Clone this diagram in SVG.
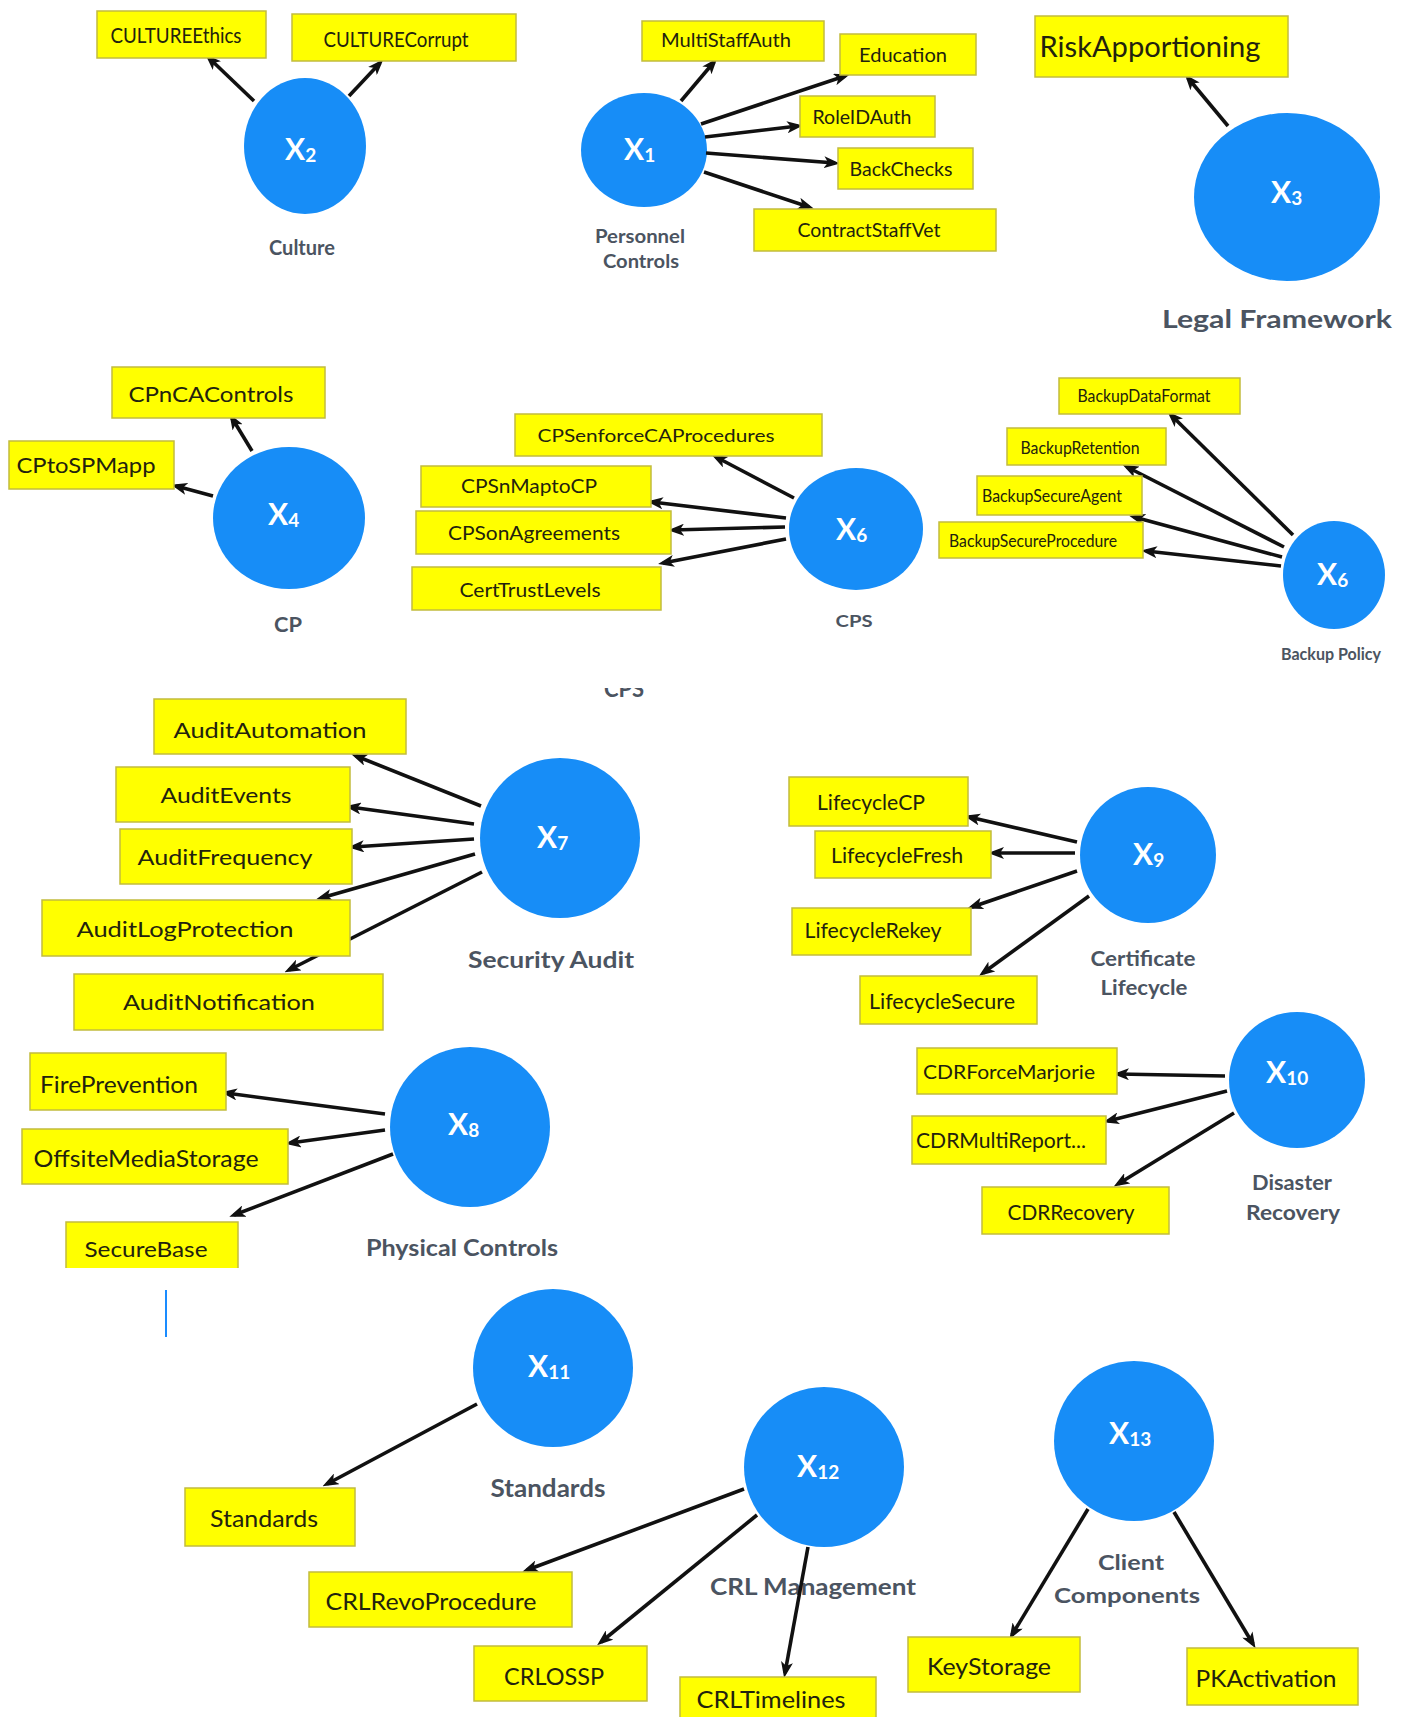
<svg xmlns="http://www.w3.org/2000/svg" width="1413" height="1717" viewBox="0 0 1413 1717">
  <style>
    .box{fill:#ffff00;stroke:#c2bc3e;stroke-width:1.5}
    .bt{font-family:Lato,"Liberation Sans",sans-serif;fill:#22220e;text-anchor:middle}
    .node{fill:#178df7}
    .xl{font-family:Lato,"Liberation Sans",sans-serif;font-weight:bold;fill:#ffffff;font-size:30px}
    .sub{font-size:19px}
    .cap{font-family:Lato,"Liberation Sans",sans-serif;font-weight:bold;fill:#4b5461;text-anchor:middle}
    .edge{stroke:#111111;stroke-width:3.6;fill:none;marker-end:url(#ah)}
  </style>
  <defs>
    <marker id="ah" viewBox="0 0 16 12" refX="11" refY="6" markerWidth="16" markerHeight="12" markerUnits="userSpaceOnUse" orient="auto">
      <path d="M0,0 L16,6 L0,12 L4,6 z" fill="#111111"/>
    </marker>
    <clipPath id="cpsClip"><rect x="590" y="688" width="70" height="20"/></clipPath>
  </defs>
  <rect width="1413" height="1717" fill="#ffffff"/>

  <!-- leftover caption fragment and edge stroke from the panel crops -->
  <text class="cap" x="624" y="697" font-size="22" clip-path="url(#cpsClip)">CPS</text>
  <line x1="166" y1="1290" x2="166" y2="1337" stroke="#1a8cff" stroke-width="2"/>

  <!-- latent constructs -->
  <g id="x2-culture">
    <ellipse class="node" cx="305" cy="146" rx="61" ry="68"/>
    <text class="xl" x="285" y="160">X<tspan class="sub" dy="2">2</tspan></text>
    <text class="cap" x="302" y="255" font-size="21" textLength="66" lengthAdjust="spacingAndGlyphs">Culture</text>
  </g>
  <g id="x1-personnel">
    <ellipse class="node" cx="644" cy="150" rx="63" ry="57"/>
    <text class="xl" x="624" y="160">X<tspan class="sub" dy="2">1</tspan></text>
    <text class="cap" x="640" y="243" font-size="19" textLength="90" lengthAdjust="spacingAndGlyphs">Personnel</text>
    <text class="cap" x="641" y="268" font-size="19" textLength="76" lengthAdjust="spacingAndGlyphs">Controls</text>
  </g>
  <g id="x3-legal">
    <ellipse class="node" cx="1287" cy="197" rx="93" ry="84"/>
    <text class="xl" x="1271" y="203">X<tspan class="sub" dy="2">3</tspan></text>
    <text class="cap" x="1277" y="328" font-size="24" textLength="230" lengthAdjust="spacingAndGlyphs">Legal Framework</text>
  </g>
  <g id="x4-cp">
    <ellipse class="node" cx="289" cy="518" rx="76" ry="71"/>
    <text class="xl" x="268" y="525">X<tspan class="sub" dy="2">4</tspan></text>
    <text class="cap" x="288" y="632" font-size="21" textLength="28" lengthAdjust="spacingAndGlyphs">CP</text>
  </g>
  <g id="x6-cps">
    <ellipse class="node" cx="856" cy="529" rx="67" ry="61"/>
    <text class="xl" x="836" y="540">X<tspan class="sub" dy="2">6</tspan></text>
    <text class="cap" x="854" y="627" font-size="17" textLength="37" lengthAdjust="spacingAndGlyphs">CPS</text>
  </g>
  <g id="x6-backup">
    <ellipse class="node" cx="1334" cy="575" rx="51" ry="54"/>
    <text class="xl" x="1317" y="585">X<tspan class="sub" dy="2">6</tspan></text>
    <text class="cap" x="1331" y="660" font-size="17" textLength="100" lengthAdjust="spacingAndGlyphs">Backup Policy</text>
  </g>
  <g id="x7-audit">
    <ellipse class="node" cx="560" cy="838" rx="80" ry="80"/>
    <text class="xl" x="537" y="848">X<tspan class="sub" dy="2">7</tspan></text>
    <text class="cap" x="551" y="968" font-size="23" textLength="166" lengthAdjust="spacingAndGlyphs">Security Audit</text>
  </g>
  <g id="x9-lifecycle">
    <ellipse class="node" cx="1148" cy="855" rx="68" ry="68"/>
    <text class="xl" x="1133" y="865">X<tspan class="sub" dy="2">9</tspan></text>
    <text class="cap" x="1143" y="966" font-size="20" textLength="105" lengthAdjust="spacingAndGlyphs">Certificate</text>
    <text class="cap" x="1144" y="995" font-size="20" textLength="87" lengthAdjust="spacingAndGlyphs">Lifecycle</text>
  </g>
  <g id="x8-physical">
    <ellipse class="node" cx="470" cy="1127" rx="80" ry="80"/>
    <text class="xl" x="448" y="1135" font-size="27">X<tspan class="sub" dy="2" font-size="17">8</tspan></text>
    <text class="cap" x="462" y="1256" font-size="23" textLength="192" lengthAdjust="spacingAndGlyphs">Physical Controls</text>
  </g>
  <g id="x10-disaster">
    <ellipse class="node" cx="1297" cy="1080" rx="68" ry="68"/>
    <text class="xl" x="1266" y="1083">X<tspan class="sub" dy="2">10</tspan></text>
    <text class="cap" x="1292" y="1190" font-size="21" textLength="80" lengthAdjust="spacingAndGlyphs">Disaster</text>
    <text class="cap" x="1293" y="1220" font-size="21" textLength="94" lengthAdjust="spacingAndGlyphs">Recovery</text>
  </g>
  <g id="x11-standards">
    <ellipse class="node" cx="553" cy="1368" rx="80" ry="79"/>
    <text class="xl" x="528" y="1377">X<tspan class="sub" dy="2">11</tspan></text>
    <text class="cap" x="548" y="1497" font-size="24" textLength="115" lengthAdjust="spacingAndGlyphs">Standards</text>
  </g>
  <g id="x12-crl">
    <ellipse class="node" cx="824" cy="1467" rx="80" ry="80"/>
    <text class="xl" x="797" y="1477">X<tspan class="sub" dy="2">12</tspan></text>
    <text class="cap" x="813" y="1595" font-size="23" textLength="206" lengthAdjust="spacingAndGlyphs">CRL Management</text>
  </g>
  <g id="x13-client">
    <ellipse class="node" cx="1134" cy="1441" rx="80" ry="80"/>
    <text class="xl" x="1109" y="1444">X<tspan class="sub" dy="2">13</tspan></text>
    <text class="cap" x="1131" y="1570" font-size="21" textLength="66" lengthAdjust="spacingAndGlyphs">Client</text>
    <text class="cap" x="1127" y="1603" font-size="21" textLength="146" lengthAdjust="spacingAndGlyphs">Components</text>
  </g>

  <!-- connectors: construct to indicator -->
  <g id="connectors">
    <line class="edge" x1="254" y1="101" x2="209" y2="58"/>
    <line class="edge" x1="349" y1="96" x2="380" y2="63"/>
    <line class="edge" x1="681" y1="101" x2="714" y2="62"/>
    <line class="edge" x1="701" y1="124" x2="845" y2="76"/>
    <line class="edge" x1="705" y1="137" x2="798" y2="126"/>
    <line class="edge" x1="706" y1="153" x2="835" y2="163"/>
    <line class="edge" x1="704" y1="172" x2="809" y2="207"/>
    <line class="edge" x1="1228" y1="126" x2="1188" y2="78"/>
    <line class="edge" x1="252" y1="451" x2="232" y2="418"/>
    <line class="edge" x1="213" y1="496" x2="176" y2="486"/>
    <line class="edge" x1="794" y1="498" x2="716" y2="457"/>
    <line class="edge" x1="786" y1="518" x2="652" y2="502"/>
    <line class="edge" x1="785" y1="527" x2="673" y2="530"/>
    <line class="edge" x1="786" y1="539" x2="663" y2="563"/>
    <line class="edge" x1="1293" y1="535" x2="1171" y2="415"/>
    <line class="edge" x1="1284" y1="547" x2="1127" y2="467"/>
    <line class="edge" x1="1282" y1="557" x2="1134" y2="517"/>
    <line class="edge" x1="1281" y1="566" x2="1146" y2="551"/>
    <line class="edge" x1="481" y1="806" x2="356" y2="756"/>
    <line class="edge" x1="474" y1="824" x2="350" y2="807"/>
    <line class="edge" x1="474" y1="839" x2="353" y2="847"/>
    <line class="edge" x1="475" y1="854" x2="321" y2="898"/>
    <line class="edge" x1="482" y1="872" x2="289" y2="970"/>
    <line class="edge" x1="1077" y1="842" x2="969" y2="817"/>
    <line class="edge" x1="1075" y1="853" x2="993" y2="853"/>
    <line class="edge" x1="1077" y1="871" x2="972" y2="907"/>
    <line class="edge" x1="1089" y1="896" x2="983" y2="973"/>
    <line class="edge" x1="385" y1="1114" x2="226" y2="1093"/>
    <line class="edge" x1="385" y1="1130" x2="290" y2="1143"/>
    <line class="edge" x1="393" y1="1154" x2="234" y2="1215"/>
    <line class="edge" x1="1225" y1="1076" x2="1118" y2="1074"/>
    <line class="edge" x1="1227" y1="1091" x2="1108" y2="1121"/>
    <line class="edge" x1="1234" y1="1113" x2="1118" y2="1184"/>
    <line class="edge" x1="477" y1="1404" x2="327" y2="1484"/>
    <line class="edge" x1="744" y1="1489" x2="527" y2="1570"/>
    <line class="edge" x1="757" y1="1515" x2="601" y2="1642"/>
    <line class="edge" x1="808" y1="1547" x2="785" y2="1673"/>
    <line class="edge" x1="1088" y1="1509" x2="1012" y2="1635"/>
    <line class="edge" x1="1174" y1="1512" x2="1253" y2="1644"/>
  </g>

  <!-- indicators -->
  <g id="culture-ethics"><rect class="box" x="97" y="11" width="169" height="47"/><text class="bt" x="176" y="43" font-size="21" textLength="131" lengthAdjust="spacingAndGlyphs">CULTUREEthics</text></g>
  <g id="culture-corrupt"><rect class="box" x="292" y="14" width="224" height="47"/><text class="bt" x="396" y="47" font-size="21" textLength="145" lengthAdjust="spacingAndGlyphs">CULTURECorrupt</text></g>
  <g id="multi-staff-auth"><rect class="box" x="642" y="21" width="182" height="40"/><text class="bt" x="726" y="47" font-size="19" textLength="130" lengthAdjust="spacingAndGlyphs">MultiStaffAuth</text></g>
  <g id="education"><rect class="box" x="840" y="34" width="136" height="41"/><text class="bt" x="903" y="62" font-size="19" textLength="88" lengthAdjust="spacingAndGlyphs">Education</text></g>
  <g id="role-id-auth"><rect class="box" x="800" y="96" width="135" height="41"/><text class="bt" x="862" y="124" font-size="19" textLength="99" lengthAdjust="spacingAndGlyphs">RoleIDAuth</text></g>
  <g id="back-checks"><rect class="box" x="838" y="148" width="135" height="41"/><text class="bt" x="901" y="176" font-size="19" textLength="103" lengthAdjust="spacingAndGlyphs">BackChecks</text></g>
  <g id="contract-staff-vet"><rect class="box" x="754" y="209" width="242" height="42"/><text class="bt" x="869" y="237" font-size="19" textLength="143" lengthAdjust="spacingAndGlyphs">ContractStaffVet</text></g>
  <g id="risk-apportioning"><rect class="box" x="1035" y="16" width="253" height="61"/><text class="bt" x="1150" y="57" font-size="28" textLength="221" lengthAdjust="spacingAndGlyphs">RiskApportioning</text></g>

  <g id="cpnca-controls"><rect class="box" x="112" y="367" width="213" height="51"/><text class="bt" x="211" y="402" font-size="21" textLength="165" lengthAdjust="spacingAndGlyphs">CPnCAControls</text></g>
  <g id="cpto-spmapp"><rect class="box" x="9" y="441" width="165" height="48"/><text class="bt" x="86" y="473" font-size="21" textLength="139" lengthAdjust="spacingAndGlyphs">CPtoSPMapp</text></g>
  <g id="cps-enforce"><rect class="box" x="515" y="414" width="307" height="42"/><text class="bt" x="656" y="442" font-size="18" textLength="237" lengthAdjust="spacingAndGlyphs">CPSenforceCAProcedures</text></g>
  <g id="cps-mapto-cp"><rect class="box" x="421" y="466" width="230" height="41"/><text class="bt" x="529" y="493" font-size="19" textLength="136" lengthAdjust="spacingAndGlyphs">CPSnMaptoCP</text></g>
  <g id="cps-agreements"><rect class="box" x="416" y="511" width="255" height="43"/><text class="bt" x="534" y="540" font-size="19" textLength="172" lengthAdjust="spacingAndGlyphs">CPSonAgreements</text></g>
  <g id="cert-trust-levels"><rect class="box" x="412" y="567" width="249" height="43"/><text class="bt" x="530" y="597" font-size="19" textLength="141" lengthAdjust="spacingAndGlyphs">CertTrustLevels</text></g>
  <g id="backup-data-format"><rect class="box" x="1059" y="378" width="181" height="36"/><text class="bt" x="1144" y="402" font-size="17" textLength="133" lengthAdjust="spacingAndGlyphs">BackupDataFormat</text></g>
  <g id="backup-retention"><rect class="box" x="1007" y="428" width="159" height="37"/><text class="bt" x="1080" y="454" font-size="17" textLength="119" lengthAdjust="spacingAndGlyphs">BackupRetention</text></g>
  <g id="backup-secure-agent"><rect class="box" x="977" y="476" width="165" height="39"/><text class="bt" x="1052" y="502" font-size="17" textLength="140" lengthAdjust="spacingAndGlyphs">BackupSecureAgent</text></g>
  <g id="backup-secure-procedure"><rect class="box" x="939" y="522" width="204" height="36"/><text class="bt" x="1033" y="547" font-size="17" textLength="168" lengthAdjust="spacingAndGlyphs">BackupSecureProcedure</text></g>

  <g id="audit-automation"><rect class="box" x="154" y="699" width="252" height="55"/><text class="bt" x="270" y="738" font-size="22" textLength="193" lengthAdjust="spacingAndGlyphs">AuditAutomation</text></g>
  <g id="audit-events"><rect class="box" x="116" y="767" width="234" height="55"/><text class="bt" x="226" y="803" font-size="22" textLength="131" lengthAdjust="spacingAndGlyphs">AuditEvents</text></g>
  <g id="audit-frequency"><rect class="box" x="120" y="829" width="232" height="55"/><text class="bt" x="225" y="865" font-size="22" textLength="175" lengthAdjust="spacingAndGlyphs">AuditFrequency</text></g>
  <g id="audit-log-protection"><rect class="box" x="42" y="900" width="308" height="56"/><text class="bt" x="185" y="937" font-size="22" textLength="217" lengthAdjust="spacingAndGlyphs">AuditLogProtection</text></g>
  <g id="audit-notification"><rect class="box" x="74" y="974" width="309" height="56"/><text class="bt" x="219" y="1010" font-size="22" textLength="192" lengthAdjust="spacingAndGlyphs">AuditNotification</text></g>
  <g id="lifecycle-cp"><rect class="box" x="789" y="777" width="179" height="49"/><text class="bt" x="871" y="810" font-size="21" textLength="108" lengthAdjust="spacingAndGlyphs">LifecycleCP</text></g>
  <g id="lifecycle-fresh"><rect class="box" x="815" y="831" width="176" height="47"/><text class="bt" x="897" y="863" font-size="21" textLength="132" lengthAdjust="spacingAndGlyphs">LifecycleFresh</text></g>
  <g id="lifecycle-rekey"><rect class="box" x="792" y="908" width="179" height="47"/><text class="bt" x="873" y="938" font-size="21" textLength="137" lengthAdjust="spacingAndGlyphs">LifecycleRekey</text></g>
  <g id="lifecycle-secure"><rect class="box" x="860" y="976" width="177" height="48"/><text class="bt" x="942" y="1009" font-size="21" textLength="146" lengthAdjust="spacingAndGlyphs">LifecycleSecure</text></g>

  <g id="fire-prevention"><rect class="box" x="30" y="1053" width="196" height="57"/><text class="bt" x="119" y="1093" font-size="23" textLength="158" lengthAdjust="spacingAndGlyphs">FirePrevention</text></g>
  <g id="offsite-media-storage"><rect class="box" x="22" y="1129" width="266" height="55"/><text class="bt" x="146" y="1167" font-size="23" textLength="225" lengthAdjust="spacingAndGlyphs">OffsiteMediaStorage</text></g>
  <g id="secure-base">
    <rect x="66" y="1222" width="172" height="46" fill="#ffff00"/>
    <path d="M66,1268 V1222 H238 V1268" fill="none" stroke="#c2bc3e" stroke-width="1.5"/>
    <text class="bt" x="146" y="1257" font-size="22" textLength="123" lengthAdjust="spacingAndGlyphs">SecureBase</text>
  </g>
  <g id="cdr-force-marjorie"><rect class="box" x="917" y="1048" width="200" height="46"/><text class="bt" x="1009" y="1079" font-size="20" textLength="172" lengthAdjust="spacingAndGlyphs">CDRForceMarjorie</text></g>
  <g id="cdr-multi-report"><rect class="box" x="912" y="1116" width="194" height="48"/><text class="bt" x="1001" y="1148" font-size="21" textLength="170" lengthAdjust="spacingAndGlyphs">CDRMultiReport...</text></g>
  <g id="cdr-recovery"><rect class="box" x="982" y="1187" width="187" height="47"/><text class="bt" x="1071" y="1220" font-size="21" textLength="127" lengthAdjust="spacingAndGlyphs">CDRRecovery</text></g>

  <g id="standards"><rect class="box" x="185" y="1488" width="170" height="58"/><text class="bt" x="264" y="1527" font-size="23" textLength="108" lengthAdjust="spacingAndGlyphs">Standards</text></g>
  <g id="crl-revo-procedure"><rect class="box" x="309" y="1572" width="263" height="55"/><text class="bt" x="431" y="1610" font-size="24" textLength="211" lengthAdjust="spacingAndGlyphs">CRLRevoProcedure</text></g>
  <g id="crl-ossp"><rect class="box" x="474" y="1646" width="173" height="55"/><text class="bt" x="554" y="1685" font-size="24" textLength="100" lengthAdjust="spacingAndGlyphs">CRLOSSP</text></g>
  <g id="crl-timelines"><rect class="box" x="680" y="1677" width="196" height="48"/><text class="bt" x="771" y="1708" font-size="23" textLength="149" lengthAdjust="spacingAndGlyphs">CRLTimelines</text></g>
  <g id="key-storage"><rect class="box" x="908" y="1637" width="172" height="55"/><text class="bt" x="989" y="1675" font-size="24" textLength="124" lengthAdjust="spacingAndGlyphs">KeyStorage</text></g>
  <g id="pk-activation"><rect class="box" x="1187" y="1648" width="171" height="57"/><text class="bt" x="1266" y="1687" font-size="23" textLength="141" lengthAdjust="spacingAndGlyphs">PKActivation</text></g>
</svg>
